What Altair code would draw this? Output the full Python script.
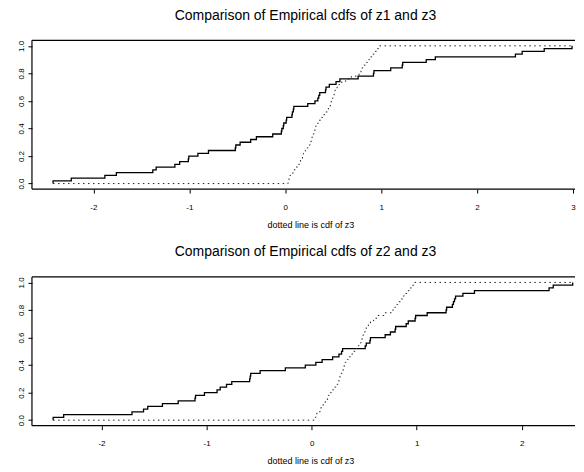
import altair as alt
import pandas as pd

# ---- data (sorted sample values) ----
z1 = [-2.42, -2.23, -1.88, -1.76, -1.38, -1.345, -1.15, -1.10, -1.01, -1.005,
      -0.91, -0.80, -0.52, -0.515, -0.47, -0.36, -0.30, -0.13, -0.04, -0.035,
      -0.02, -0.015, 0.01, 0.015, 0.07, 0.075, 0.085, 0.09, 0.235, 0.31,
      0.34, 0.35, 0.36, 0.42, 0.425, 0.46, 0.53, 0.57, 0.76, 0.92,
      0.925, 1.10, 1.22, 1.225, 1.47, 1.565, 2.40, 2.47, 2.70, 2.99]

z2 = [-2.46, -2.36, -1.71, -1.60, -1.56, -1.42, -1.27, -1.11, -1.105, -1.02,
      -0.90, -0.87, -0.81, -0.76, -0.59, -0.585, -0.58, -0.49, -0.25, -0.06,
      0.04, 0.10, 0.20, 0.26, 0.285, 0.295, 0.51, 0.52, 0.555, 0.56,
      0.70, 0.75, 0.795, 0.80, 0.90, 0.92, 0.985, 0.99, 1.10, 1.28,
      1.285, 1.34, 1.35, 1.36, 1.37, 1.44, 1.55, 2.26, 2.30, 2.485]

z3 = [0.03, 0.04, 0.05, 0.08, 0.09, 0.11, 0.13, 0.15, 0.16, 0.18,
      0.19, 0.21, 0.23, 0.25, 0.26, 0.27, 0.28, 0.29, 0.30, 0.31,
      0.32, 0.34, 0.35, 0.38, 0.40, 0.42, 0.44, 0.45, 0.47, 0.48,
      0.49, 0.50, 0.51, 0.52, 0.54, 0.56, 0.59, 0.63, 0.69, 0.77,
      0.79, 0.80, 0.82, 0.85, 0.87, 0.88, 0.91, 0.93, 0.96, 0.98]

titles = ["Comparison of Empirical cdfs of z1 and z3",
          "Comparison of Empirical cdfs of z2 and z3"]
x_title = "dotted line is cdf of z3"
x_ticks_top = [-2, -1, 0, 1, 2, 3]
x_ticks_bottom = [-2, -1, 0, 1, 2]
x_dom_top = [-2.64, 3.021]
x_dom_bottom = [-2.662, 2.507]
y_ticks = [0.0, 0.2, 0.4, 0.6, 0.8, 1.0]
y_dom = [-0.04, 1.04]

W, H = 544, 149
FONT = "Liberation Sans"


def ecdf_frame(values, x_start=None, x_end=None):
    v = sorted(values)
    n = len(v)
    xs = [v[0] if x_start is None else x_start]
    ys = [0.0]
    for i, val in enumerate(v):
        xs.append(val)
        ys.append((i + 1) / n)
    if x_end is not None:
        xs.append(x_end)
        ys.append(1.0)
    return pd.DataFrame({"x": xs, "y": ys, "o": list(range(len(xs)))})


def panel(z, title, dom, ticks):
    xscale = alt.Scale(domain=dom, nice=False, zero=False)
    yscale = alt.Scale(domain=y_dom, nice=False, zero=False)
    xaxis = alt.Axis(values=ticks, title=x_title, labelExpr="'' + datum.value",
                     tickSize=4, labelPadding=10, titleY=38, titleX=279,
                     titleBaseline="alphabetic", titleFontSize=9,
                     titleFontWeight="normal", titleFont=FONT, titleColor="black",
                     labelOverlap=False)
    yaxis = alt.Axis(values=y_ticks, title="", labelExpr="format(datum.value, '.1f')",
                     labelAngle=270, labelAlign="center", labelBaseline="bottom",
                     tickSize=4, labelPadding=2, minExtent=24, maxExtent=24,
                     labelOverlap=False, labelBound=False)
    solid = alt.Chart(ecdf_frame(z)).mark_line(
        interpolate="step-after", color="black", strokeWidth=1.3
    ).encode(
        x=alt.X("x:Q", scale=xscale, axis=xaxis),
        y=alt.Y("y:Q", scale=yscale, axis=yaxis),
        order="o:Q",
    )
    dotted = alt.Chart(ecdf_frame(z3, min(z), max(z))).mark_line(
        interpolate="step-after", color="#222222", strokeWidth=1,
        strokeDash=[1.5, 3.5]
    ).encode(
        x=alt.X("x:Q", scale=xscale, axis=xaxis),
        y=alt.Y("y:Q", scale=yscale, axis=yaxis),
        order="o:Q",
    )
    one = pd.DataFrame({"k": [0]})
    top = alt.Chart(one).mark_rule(color="black", strokeWidth=1.2).encode(
        x=alt.value(0), x2=alt.value(W), y=alt.value(0))
    bottom = alt.Chart(one).mark_rule(color="black", strokeWidth=1.4).encode(
        x=alt.value(0), x2=alt.value(W), y=alt.value(H))
    left = alt.Chart(one).mark_rule(color="black", strokeWidth=1.2).encode(
        x=alt.value(0), y=alt.value(0), y2=alt.value(H))
    return alt.layer(solid, dotted, top, bottom, left).properties(
        width=W, height=H,
        title=alt.TitleParams(text=title, fontSize=14, fontWeight="normal",
                              font=FONT, color="black", baseline="top",
                              offset=17, frame="group", anchor="middle", dx=2),
    )


chart = alt.vconcat(
    panel(z1, titles[0], x_dom_top, x_ticks_top),
    panel(z2, titles[1], x_dom_bottom, x_ticks_bottom),
    spacing=16,
).properties(
    padding={"left": 0, "right": 0, "top": 0, "bottom": 0},
    background="white",
).configure_view(strokeOpacity=0).configure_axis(
    grid=False, domain=False, ticks=True, tickColor="black", tickWidth=1,
    labelFont=FONT, labelFontSize=8, labelColor="black",
)

chart.save("out.html", embed_options={"renderer": "svg", "actions": False})
